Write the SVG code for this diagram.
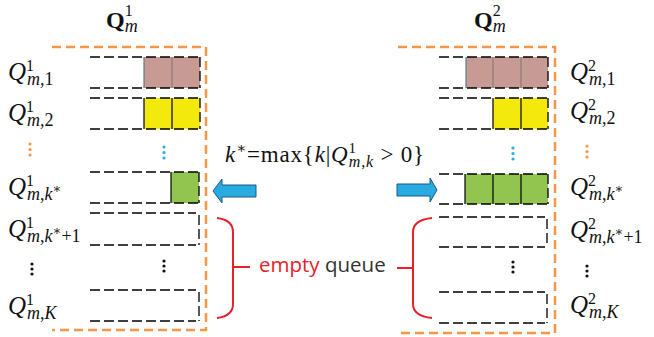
<svg xmlns="http://www.w3.org/2000/svg" width="654" height="337" viewBox="0 0 654 337">
<style>
.bg{fill:#fff}
.dash{stroke:#000;stroke-width:1.3;stroke-dasharray:10 4;fill:none}
.solid{stroke:#000;stroke-width:1.2;fill:none}
.gsolid{stroke:#5b7d8c;stroke-width:1.2;fill:none}
.div{stroke:#777;stroke-width:1;fill:none}
.orange{stroke:#f79646;stroke-width:2.5;stroke-dasharray:9 5;fill:none}
.brown{fill:#c89a94}
.yellow{fill:#f3e90c}
.green{fill:#92c550}
.arrow{fill:#29abe2;stroke:#1a5a80;stroke-width:1}
.brace{stroke:#e8202a;stroke-width:2;fill:none}
.math{font-family:"Liberation Serif","DejaVu Serif",serif;fill:#111}
.it{font-style:italic}
.sans{font-family:"Open Sans","Noto Sans",sans-serif;font-size:20.5px}
.bdot{fill:#29abe2}
.odot{fill:#f79646}
.kdot{fill:#111}
</style>
<rect class="bg" x="0" y="0" width="654" height="337"/>

<g id="title1">
<text class="math" x="106" y="28" font-size="24" font-weight="bold">Q<tspan font-weight="normal" font-size="16" dy="-12">1</tspan><tspan class="it" font-weight="normal" font-size="18" dx="-8" dy="16">m</tspan></text>
</g>
<g id="title2">
<text class="math" x="474" y="28" font-size="24" font-weight="bold">Q<tspan font-weight="normal" font-size="16" dy="-12">2</tspan><tspan class="it" font-weight="normal" font-size="18" dx="-8" dy="16">m</tspan></text>
</g>

<g id="box1"><path class="orange" d="M52,47 H206 V330 H52"/></g>
<g id="box2"><path class="orange" d="M398,47 H555 V333 H398"/></g>

<!-- left queues -->
<g id="q1-1">
<rect class="brown" x="144" y="57" width="56" height="31"/>
<path class="gsolid" d="M144,57 V88"/><path class="div" d="M172,57 V88"/>
<path class="dash" d="M90,57 H200 M90,88 H200 M200,57 V88"/>
</g>
<g id="q1-2">
<rect class="yellow" x="144" y="98" width="56" height="31"/>
<path class="solid" d="M144,98 V129 M172,98 V129"/>
<path class="dash" d="M90,98 H200 M90,129 H200 M200,98 V129"/>
</g>
<g id="q1-ks">
<rect class="green" x="171" y="172" width="28" height="31"/>
<path class="solid" d="M171,172 V203"/>
<path class="dash" d="M90,172 H199 M90,203 H199 M199,172 V203"/>
</g>
<g id="q1-ks1">
<path class="dash" d="M90,213 H196 M90,245 H196 M199,215 V245"/>
</g>
<g id="q1-K">
<path class="dash" d="M90,290 H196 M90,321 H196 M199,292 V321"/>
</g>

<!-- right queues -->
<g id="q2-1">
<rect class="brown" x="466" y="57" width="82" height="31"/>
<path class="gsolid" d="M466,57 V88"/><path class="div" d="M493,57 V88 M521,57 V88"/>
<path class="dash" d="M439,57 H548 M439,88 H548 M548,57 V88"/>
</g>
<g id="q2-2">
<rect class="yellow" x="493" y="98" width="55" height="31"/>
<path class="solid" d="M493,98 V129 M521,98 V129"/>
<path class="dash" d="M439,98 H548 M439,129 H548 M548,98 V129"/>
</g>
<g id="q2-ks">
<rect class="green" x="465" y="174" width="83" height="30"/>
<path class="solid" d="M465,174 V204 M493,174 V204 M521,174 V204"/>
<path class="dash" d="M439,174 H548 M439,204 H548 M548,174 V204"/>
</g>
<g id="q2-ks1">
<path class="dash" d="M439,217 H545 M439,247 H545 M547,219 V247"/>
</g>
<g id="q2-K">
<path class="dash" d="M439,292 H545 M439,323 H545 M547,294 V323"/>
</g>

<!-- dots -->
<g id="dots">
<circle class="odot" cx="30" cy="144" r="1.6"/><circle class="odot" cx="30" cy="149.5" r="1.6"/><circle class="odot" cx="30" cy="155" r="1.6"/>
<circle class="bdot" cx="164" cy="147" r="1.6"/><circle class="bdot" cx="164" cy="152.5" r="1.6"/><circle class="bdot" cx="164" cy="158" r="1.6"/>
<circle class="kdot" cx="32" cy="264" r="1.6"/><circle class="kdot" cx="32" cy="269" r="1.6"/><circle class="kdot" cx="32" cy="274" r="1.6"/>
<circle class="kdot" cx="164" cy="261" r="1.6"/><circle class="kdot" cx="164" cy="266" r="1.6"/><circle class="kdot" cx="164" cy="271" r="1.6"/>
<circle class="bdot" cx="513" cy="148" r="1.6"/><circle class="bdot" cx="513" cy="153.5" r="1.6"/><circle class="bdot" cx="513" cy="159" r="1.6"/>
<circle class="odot" cx="587" cy="146" r="1.6"/><circle class="odot" cx="587" cy="151.5" r="1.6"/><circle class="odot" cx="587" cy="157" r="1.6"/>
<circle class="kdot" cx="513" cy="262" r="1.6"/><circle class="kdot" cx="513" cy="267" r="1.6"/><circle class="kdot" cx="513" cy="272" r="1.6"/>
<circle class="kdot" cx="587" cy="266" r="1.6"/><circle class="kdot" cx="587" cy="271" r="1.6"/><circle class="kdot" cx="587" cy="276" r="1.6"/>
</g>

<!-- left labels -->
<g id="lab1-1"><text class="math" x="8" y="80" font-size="25"><tspan class="it">Q</tspan><tspan font-size="16" dy="-9">1</tspan><tspan font-size="18" dx="-7" dy="14"><tspan class="it">m</tspan>,1</tspan></text></g>
<g id="lab1-2"><text class="math" x="8" y="121" font-size="25"><tspan class="it">Q</tspan><tspan font-size="16" dy="-9">1</tspan><tspan font-size="18" dx="-7" dy="14"><tspan class="it">m</tspan>,2</tspan></text></g>
<g id="lab1-ks"><text class="math" x="8" y="195" font-size="25"><tspan class="it">Q</tspan><tspan font-size="16" dy="-9">1</tspan><tspan font-size="18" dx="-7" dy="14"><tspan class="it">m</tspan>,<tspan class="it">k</tspan><tspan font-size="13" dy="-7">∗</tspan></tspan></text></g>
<g id="lab1-ks1"><text class="math" x="8" y="237" font-size="25"><tspan class="it">Q</tspan><tspan font-size="16" dy="-9">1</tspan><tspan font-size="18" dx="-7" dy="14"><tspan class="it">m</tspan>,<tspan class="it">k</tspan><tspan font-size="13" dy="-7">∗</tspan><tspan dy="7">+1</tspan></tspan></text></g>
<g id="lab1-K"><text class="math" x="8" y="314" font-size="25"><tspan class="it">Q</tspan><tspan font-size="16" dy="-9">1</tspan><tspan font-size="18" dx="-7" dy="14"><tspan class="it">m</tspan>,<tspan class="it">K</tspan></tspan></text></g>

<!-- right labels -->
<g id="lab2-1"><text class="math" x="570" y="80" font-size="25"><tspan class="it">Q</tspan><tspan font-size="16" dy="-9">2</tspan><tspan font-size="18" dx="-7" dy="14"><tspan class="it">m</tspan>,1</tspan></text></g>
<g id="lab2-2"><text class="math" x="570" y="119" font-size="25"><tspan class="it">Q</tspan><tspan font-size="16" dy="-9">2</tspan><tspan font-size="18" dx="-7" dy="14"><tspan class="it">m</tspan>,2</tspan></text></g>
<g id="lab2-ks"><text class="math" x="570" y="195" font-size="25"><tspan class="it">Q</tspan><tspan font-size="16" dy="-9">2</tspan><tspan font-size="18" dx="-7" dy="14"><tspan class="it">m</tspan>,<tspan class="it">k</tspan><tspan font-size="13" dy="-7">∗</tspan></tspan></text></g>
<g id="lab2-ks1"><text class="math" x="570" y="238" font-size="25"><tspan class="it">Q</tspan><tspan font-size="16" dy="-9">2</tspan><tspan font-size="18" dx="-7" dy="14"><tspan class="it">m</tspan>,<tspan class="it">k</tspan><tspan font-size="13" dy="-7">∗</tspan><tspan dy="7">+1</tspan></tspan></text></g>
<g id="lab2-K"><text class="math" x="570" y="313" font-size="25"><tspan class="it">Q</tspan><tspan font-size="16" dy="-9">2</tspan><tspan font-size="18" dx="-7" dy="14"><tspan class="it">m</tspan>,<tspan class="it">K</tspan></tspan></text></g>

<!-- formula -->
<g id="formula"><text class="math" x="225" y="162" font-size="23" letter-spacing="0.8"><tspan class="it">k</tspan><tspan font-size="15" dy="-9">∗</tspan><tspan dy="9">=max{</tspan><tspan class="it">k</tspan>|<tspan class="it">Q</tspan><tspan font-size="15" dy="-9">1</tspan><tspan font-size="16" dx="-8" dy="14"><tspan class="it">m</tspan>,<tspan class="it">k</tspan></tspan><tspan dy="-5"> &gt; 0}</tspan></text></g>

<g id="connectors">
<polygon class="arrow" points="213,191 222,179 222,185 256,185 256,197 222,197 222,203"/>
<polygon class="arrow" points="397,184 430,184 430,178 437,190 430,202 430,196 397,196"/>
<path class="brace" d="M217,218 Q233,220 233,232 V304 Q233,316 217,318 M233,267 H250"/>
<path class="brace" d="M432,218 Q413,220 413,232 V304 Q413,316 432,318 M413,268 H397"/>
</g>

<g id="label-empty"><text class="sans" x="259" y="272"><tspan fill="#e8202a">empty</tspan><tspan fill="#333"> queue</tspan></text></g>
</svg>
